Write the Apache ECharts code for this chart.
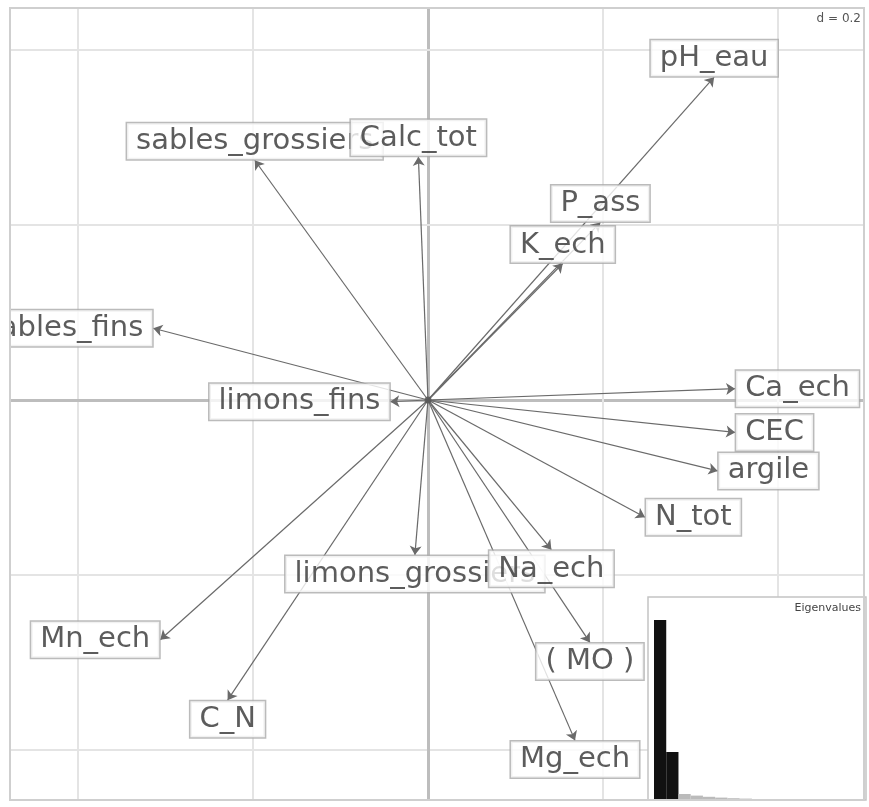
<!DOCTYPE html>
<html>
<head>
<meta charset="utf-8">
<script src="https://cdn.jsdelivr.net/npm/echarts@6/dist/echarts.min.js"></script>
<style>
  html, body { margin: 0; padding: 0; background: #fff; }
  #main { width: 869px; height: 807px; }
</style>
</head>
<body>
<div id="main"></div>
<script>
// noms des variables et coordonnées sur les axes 1 et 2
const varNames = ['pH_eau', 'sables_grossiers', 'Calc_tot', 'P_ass', 'K_ech', 'sables_fins',
  'limons_fins', 'Ca_ech', 'CEC', 'argile', 'N_tot', 'limons_grossiers', 'Na_ech',
  'Mn_ech', '( MO )', 'C_N', 'Mg_ech']
const loadX = [0.327, -0.198, -0.011, 0.197, 0.154, -0.314,
  -0.043, 0.351, 0.351, 0.331, 0.248, -0.015, 0.141,
  -0.306, 0.185, -0.229, 0.168]
const loadY = [0.369, 0.274, 0.278, 0.203, 0.156, 0.082,
  -0.002, 0.013, -0.037, -0.081, -0.134, -0.177, -0.171,
  -0.274, -0.277, -0.343, -0.389]

// grille (d = 0.2)
const gridTicks = [-0.4, -0.2, 0, 0.2, 0.4]
const dText = 'd = 0.2'

// valeurs propres
const eigenValues = [9.0, 2.4, 0.3, 0.22, 0.16, 0.12, 0.09, 0.07, 0.05, 0.04, 0.03, 0.02, 0.02, 0.01, 0.01, 0.01, 0.005]

const FONT = 'DejaVu Sans, sans-serif'
const chart = echarts.init(document.getElementById('main'))

// côté de l'étiquette selon la direction de la flèche
function labelSide (x, y) {
  if (Math.abs(x) > Math.abs(y)) return x > 0 ? 'right' : 'left'
  return y > 0 ? 'top' : 'bottom'
}

let gridLines = []
for (let v of gridTicks) {
  let st = v === 0 ? { color: '#bdbdbd', width: 3, type: 'solid' } : { color: '#e4e4e4', width: 2, type: 'solid' }
  gridLines.push({ xAxis: v, lineStyle: st })
  gridLines.push({ yAxis: v, lineStyle: st })
}

let labelSeries = varNames.map((name, i) => ({
  type: 'scatter',
  xAxisIndex: 0,
  yAxisIndex: 0,
  symbolSize: 0,
  silent: true,
  z: 10 + i,
  data: [{ value: [loadX[i], loadY[i]], name: name }],
  label: {
    show: true,
    formatter: '{b}',
    position: labelSide(loadX[i], loadY[i]),
    distance: 1,
    fontFamily: FONT,
    fontSize: 29,
    lineHeight: 31,
    color: '#333',
    backgroundColor: '#fff',
    borderColor: '#aaaaaa',
    borderWidth: 1.5,
    padding: [3, 9, 2, 9]
  }
}))

let option = {
  animation: false,
  backgroundColor: '#fff',
  grid: [
    { left: 10, top: 8, width: 854, height: 792 },
    { left: 654, top: 600, width: 208, height: 200 }
  ],
  xAxis: [
    { type: 'value', gridIndex: 0, min: -418 / 875, max: 436 / 875, show: false },
    { type: 'category', gridIndex: 1, data: eigenValues.map((v, i) => i + 1), show: false }
  ],
  yAxis: [
    { type: 'value', gridIndex: 0, min: -400 / 875, max: 392 / 875, show: false },
    { type: 'value', gridIndex: 1, min: 0, max: eigenValues[0] * 200 / 180, show: false }
  ],
  graphic: [
    // cache à gauche (étiquette coupée) et cadre
    { type: 'rect', z: 90, shape: { x: 0, y: 0, width: 9, height: 807 }, style: { fill: '#fff' } },
    { type: 'rect', z: 91, shape: { x: 10, y: 8, width: 854, height: 792 }, style: { fill: 'none', stroke: '#cfcfcf', lineWidth: 2 } },
    { type: 'rect', z: 60, shape: { x: 648, y: 597, width: 218, height: 203 }, style: { fill: '#fff', stroke: '#c4c4c4', lineWidth: 1.5 } },
    { type: 'text', z: 62, right: 8, top: 603, style: { text: 'Eigenvalues', font: '11px ' + FONT, fill: '#444' } },
    { type: 'text', z: 62, right: 6, top: 12, style: { text: dText, font: '12px ' + FONT, fill: '#555', backgroundColor: '#fff', padding: [1, 2] } }
  ],
  series: [
    {
      type: 'scatter',
      xAxisIndex: 0,
      yAxisIndex: 0,
      symbolSize: 0,
      silent: true,
      data: [[0, 0]],
      markLine: {
        silent: true,
        symbol: 'none',
        label: { show: false },
        data: gridLines
      }
    },
    {
      type: 'lines',
      coordinateSystem: 'cartesian2d',
      xAxisIndex: 0,
      yAxisIndex: 0,
      silent: true,
      z: 5,
      symbol: ['none', 'arrow'],
      symbolSize: 9,
      lineStyle: { color: '#6a6a6a', width: 1.2, opacity: 1 },
      data: varNames.map((n, i) => ({ coords: [[0, 0], [loadX[i], loadY[i]]] }))
    },
    {
      type: 'scatter',
      xAxisIndex: 0,
      yAxisIndex: 0,
      silent: true,
      z: 6,
      symbolSize: 7,
      itemStyle: { color: '#555' },
      data: [[0, 0]]
    },
    ...labelSeries,
    {
      type: 'bar',
      xAxisIndex: 1,
      yAxisIndex: 1,
      silent: true,
      z: 70,
      barCategoryGap: '0%',
      data: eigenValues.map((v, i) => ({ value: v, itemStyle: { color: i < 2 ? '#111' : '#bbb' } }))
    }
  ]
}

chart.setOption(option)
</script>
</body>
</html>
